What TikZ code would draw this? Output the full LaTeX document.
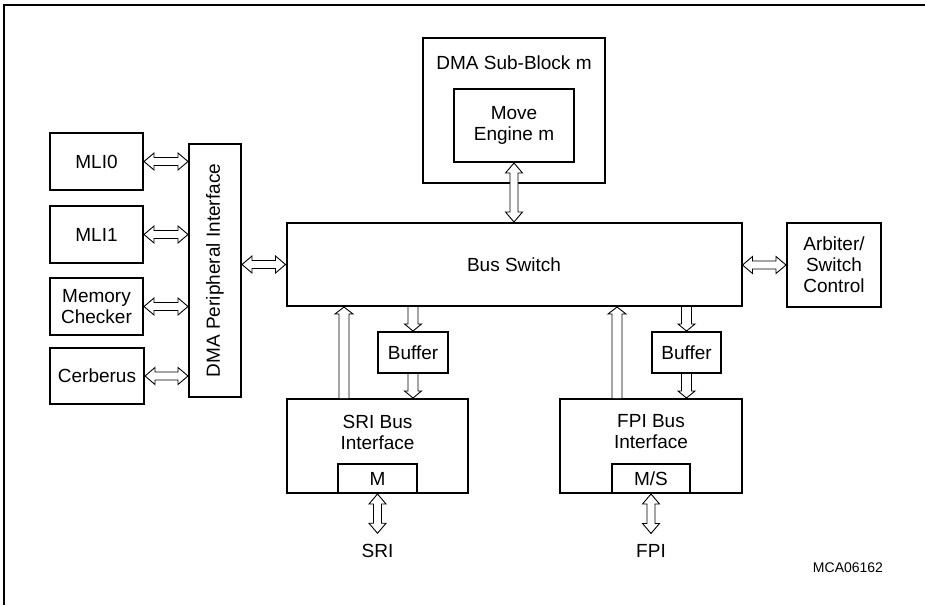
\documentclass[tikz,border=0pt]{standalone}
\usepackage{fontspec}
\setmainfont{Liberation Sans}
\usetikzlibrary{calc}
\tikzset{
  box/.style={draw, line width=2pt, inner sep=0pt, align=center,
    font=\fontsize{19}{21}\selectfont},
  txt/.style={inner sep=0pt, align=center, font=\fontsize{19}{21}\selectfont},
  arr/.style={draw, line width=0.9pt, fill=white, line join=miter},
}
% horizontal double arrow, from #1 (left) to #2 (right), at the height of #1
\newcommand\HDArrow[2]{\path[arr] let \p1=(#1), \p2=(#2) in
  (\x1,\y1) -- (\x1+10pt,\y1+8.5pt) -- (\x1+10pt,\y1+4pt) -- (\x2-10pt,\y1+4pt)
  -- (\x2-10pt,\y1+8.5pt) -- (\x2,\y1) -- (\x2-10pt,\y1-8.5pt) -- (\x2-10pt,\y1-4pt)
  -- (\x1+10pt,\y1-4pt) -- (\x1+10pt,\y1-8.5pt) -- cycle;}
% vertical double arrow, from #1 (top) to #2 (bottom), at the x of #1
\newcommand\VDArrow[2]{\path[arr] let \p1=(#1), \p2=(#2) in
  (\x1,\y1) -- (\x1+8.5pt,\y1-10pt) -- (\x1+4pt,\y1-10pt) -- (\x1+4pt,\y2+10pt)
  -- (\x1+8.5pt,\y2+10pt) -- (\x1,\y2) -- (\x1-8.5pt,\y2+10pt) -- (\x1-4pt,\y2+10pt)
  -- (\x1-4pt,\y1-10pt) -- (\x1-8.5pt,\y1-10pt) -- cycle;}
% single arrow pointing down, from #1 (top) to #2 (bottom)
\newcommand\DownArrow[2]{\path[arr] let \p1=(#1), \p2=(#2) in
  (\x1-5pt,\y1) -- (\x1-5pt,\y2+7pt) -- (\x1-8.5pt,\y2+7pt) -- (\x1,\y2)
  -- (\x1+8.5pt,\y2+7pt) -- (\x1+5pt,\y2+7pt) -- (\x1+5pt,\y1);}
% single arrow pointing up, tip at #1 (top), tail at #2 (bottom)
\newcommand\UpArrow[2]{\path[arr] let \p1=(#1), \p2=(#2) in
  (\x1-5pt,\y2) -- (\x1-5pt,\y1-7pt) -- (\x1-9pt,\y1-7pt) -- (\x1,\y1)
  -- (\x1+9pt,\y1-7pt) -- (\x1+5pt,\y1-7pt) -- (\x1+5pt,\y2);}
\begin{document}
\begin{tikzpicture}[x=1pt, y=-1pt]
\useasboundingbox (0,0) rectangle (925,605);
\draw[line width=1.5pt] (4,605) -- (4,5) -- (925,5);

% left column
\node[box, minimum width=93pt, minimum height=57pt] (mli0) at (96.5,161.5) {MLI0};
\node[box, minimum width=93pt, minimum height=57pt] (mli1) at (96.5,234.5) {MLI1};
\node[box, minimum width=93pt, minimum height=57pt] (mem) at (96.5,306.5) {Memory\\Checker};
\node[box, minimum width=94pt, minimum height=56pt] (cerb) at (97,376) {Cerberus};
\node[box, minimum width=52pt, minimum height=253pt] (dpi) at (215,270.5) {};
\node[txt, rotate=90] (dpitxt) at (dpi.center) {DMA Peripheral Interface};

% bus switch and arbiter
\node[box, minimum width=455pt, minimum height=83pt] (bus) at (514,264.5) {Bus Switch};
\node[box, minimum width=94pt, minimum height=84pt] (arb) at (834,265) {Arbiter/\\Switch\\Control};

% DMA sub-block
\node[box, minimum width=182pt, minimum height=145pt] (sub) at (514,110.5) {};
\node[txt] (subtxt) at (514,63) {DMA Sub-Block m};
\node[box, minimum width=120pt, minimum height=73pt] (me) at (514,125.5) {Move\\Engine m};

% buffers
\node[box, minimum width=70pt, minimum height=41pt] (sribuf) at (413,352.5) {Buffer};
\node[box, minimum width=69pt, minimum height=41pt] (fpibuf) at (686.5,352.5) {Buffer};

% bus interfaces
\node[box, minimum width=181pt, minimum height=94pt] (sri) at (377.5,446) {};
\node[txt] (sritxt) at (377.5,432) {SRI Bus\\Interface};
\node[box, minimum width=79pt, minimum height=29pt] (msri) at (377.5,478.5) {M};
\node[box, minimum width=182pt, minimum height=94pt] (fpi) at (651,446) {};
\node[txt] (fpitxt) at (651,432) {FPI Bus\\Interface};
\node[box, minimum width=78pt, minimum height=29pt] (mfpi) at (651,478.5) {M/S};

% bottom labels
\node[txt, outer ysep=11pt] (srilbl) at (377.5,551) {SRI};
\node[txt, outer ysep=11pt] (fpilbl) at (651,551) {FPI};
\node[inner sep=0pt, font=\fontsize{14}{16}\selectfont] (code) at (848,568) {MCA06162};

% connectors
\HDArrow{mli0.east}{dpi.west |- mli0.east}
\HDArrow{mli1.east}{dpi.west |- mli1.east}
\HDArrow{mem.east}{dpi.west |- mem.east}
\HDArrow{cerb.east}{dpi.west |- cerb.east}
\HDArrow{dpi.east |- bus.west}{bus.west}
\HDArrow{bus.east |- arb.west}{arb.west}
\VDArrow{me.south}{me.south |- bus.north}

\coordinate (sriup) at ([xshift=-33.5pt]sri.north);
\coordinate (fpiup) at ([xshift=-34pt]fpi.north);
\UpArrow{sriup |- bus.south}{sriup}
\UpArrow{fpiup |- bus.south}{fpiup}
\DownArrow{sribuf.north |- bus.south}{sribuf.north}
\DownArrow{sribuf.south}{sribuf.south |- sri.north}
\DownArrow{fpibuf.north |- bus.south}{fpibuf.north}
\DownArrow{fpibuf.south}{fpibuf.south |- fpi.north}

\VDArrow{msri.south}{srilbl.north}
\VDArrow{mfpi.south}{fpilbl.north}
\end{tikzpicture}
\end{document}
